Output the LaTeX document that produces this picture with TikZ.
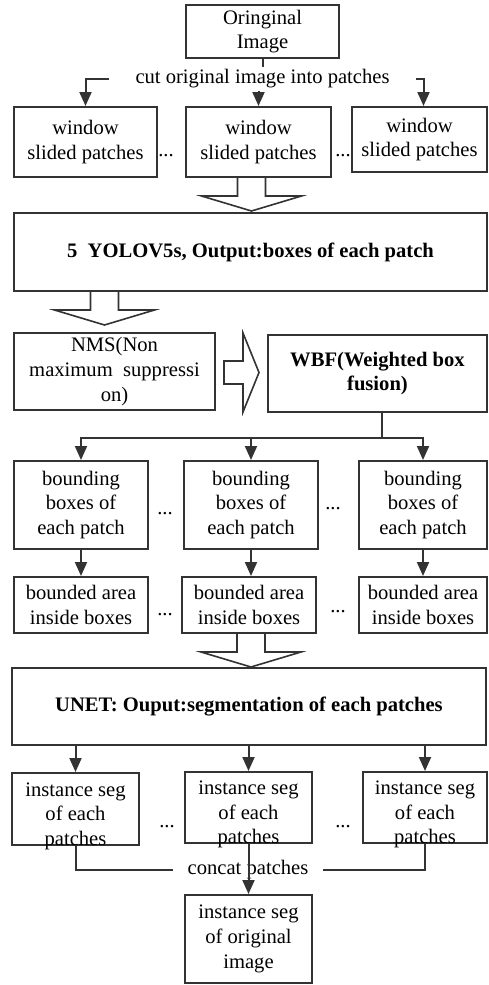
\documentclass[tikz,border=0pt]{standalone}
\usepackage{fontspec}
\setmainfont{Liberation Serif}
\usepackage{tikz}
\usetikzlibrary{positioning,arrows.meta}
\definecolor{linecol}{RGB}{51,51,51}
\newcommand{\hollowdown}[2]{\draw[hollow] #1 ++(#2-14,0) -- ++(0,18) -- ++(-36,0) -- ++(50,15) -- ++(50,-15) -- ++(-36,0) -- ++(0,-18);}

\begin{document}
\begin{tikzpicture}[x=0.5pt,y=-0.5pt,
box/.style={draw=linecol,line width=1pt,align=center,inner sep=1pt,font=\fontsize{10.3}{12.4}\selectfont},
boldbox/.style={box,font=\fontsize{10.3}{12.4}\selectfont\bfseries},
txt/.style={align=center,inner sep=0pt,font=\fontsize{10.3}{12.3}\selectfont},
lbl/.style={inner ysep=1pt,font=\fontsize{10.3}{12.4}\selectfont},
dots/.style={anchor=base,inner sep=0pt,font=\fontsize{10.3}{12.4}\selectfont},
arr/.style={-{Triangle[length=7pt,width=6pt]},draw=linecol,line width=1pt},
conn/.style={draw=linecol,line width=1pt},
hollow/.style={draw=linecol,line width=0.8pt}]
\useasboundingbox (0,0) rectangle (488,985);
% input and patches
\node[box,minimum width=76.5pt,minimum height=26.5pt] (orig) at (262.5,31.5) {Oringinal\\Image};
\node[lbl,inner xsep=13pt] (cut) at (262.5,79) {cut original image into patches};
\node[box,minimum width=71.5pt,minimum height=35pt] (win1) at (85.5,142) {window\\slided patches};
\node[box,minimum width=72.5pt,minimum height=35pt] (win2) at (258.5,142) {window\\slided patches};
\node[box,minimum width=67.5pt,minimum height=32.5pt] (win3) at (419.5,139.5) {window\\slided patches};
\node[dots] (d1) at (166,156) {...};
\node[dots] (d2) at (343,156) {...};
% detection
\node[boldbox,minimum width=236.5pt,minimum height=39pt] (yolo) at (250.5,252) {5\ \ YOLOV5s, Output:boxes of each patch};
\node[box,minimum width=100.5pt,minimum height=38.5pt] (nms) at (114.5,371.5) {NMS(Non\\maximum\ \ suppressi\\on)};
\node[boldbox,minimum width=109.5pt,minimum height=38.5pt] (wbf) at (377.5,373.5) {WBF(Weighted box\\fusion)};
% boxes per patch
\node[box,minimum width=67pt,minimum height=44pt] (bb1) at (81,505) {bounding\\boxes of\\each patch};
\node[box,minimum width=67pt,minimum height=44pt] (bb2) at (251,505) {bounding\\boxes of\\each patch};
\node[box,minimum width=64pt,minimum height=44pt] (bb3) at (423,505) {bounding\\boxes of\\each patch};
\node[dots] (d3) at (165,514) {...};
\node[dots] (d4) at (333,509) {...};
\node[box,minimum width=67pt,minimum height=28pt] (ba1) at (81,605) {bounded area\\inside boxes};
\node[box,minimum width=67pt,minimum height=28pt] (ba2) at (249,605) {bounded area\\inside boxes};
\node[box,minimum width=64pt,minimum height=28pt] (ba3) at (423,605) {bounded area\\inside boxes};
\node[dots] (d5) at (165,615) {...};
\node[dots] (d6) at (338,612) {...};
% segmentation
\node[boldbox,minimum width=237pt,minimum height=38.5pt] (unet) at (249,706.5) {UNET: Ouput:segmentation of each patches};
\node[box,minimum width=63.5pt,minimum height=36pt] (is1) at (75.5,809) {};
\node[box,minimum width=63.5pt,minimum height=35.5pt] (is2) at (248.5,807.5) {};
\node[box,minimum width=62pt,minimum height=35.5pt] (is3) at (425,807.5) {};
\foreach \i in {1,2,3}
  \node[txt] (is\i t) at ([yshift=-3.5pt]is\i.center) {instance seg\\of each\\patches};
\node[dots] (d7) at (167,827) {...};
\node[dots] (d8) at (343,827) {...};
\node[lbl,inner xsep=7pt] (concat) at (248,870) {concat patches};
\node[box,minimum width=63.5pt,minimum height=44pt] (fin) at (248.5,939) {instance seg\\of original\\image};
% connectors
\draw[conn] (orig.south) -- (cut.north);
\draw[arr] (cut.west) -| (win1.north);
\draw[arr] (cut.east) -| ([xshift=2pt]win3.north);
\draw[arr] (cut.south -| win2.north) -- (win2.north);
\hollowdown{(win2.south)}{-7}
\hollowdown{(yolo.south -| nms.north)}{-10}
\draw[hollow] (nms.east) ++(8,-10.5) -- ++(19,0) -- ++(0,-28) -- ++(16,39.5) -- ++(-16,39.5) -- ++(0,-28) -- ++(-19,0) -- cycle;
\draw[conn] ([xshift=2pt]wbf.south) -- ++(0,25) coordinate (split);
\foreach \i in {1,2,3} {
  \draw[arr] (split) -| (bb\i.north);
  \draw[arr] (bb\i.south) -- (bb\i.south |- ba\i.north);
  \draw[arr] (unet.south -| is\i.north) -- (is\i.north);
}
\hollowdown{(ba2.south)}{2}
\draw[conn] (is1.south) |- (concat.west);
\draw[conn] (is3.south) |- (concat.east);
\draw[arr] (is2.south) -- (fin.north);
\end{tikzpicture}
\end{document}
